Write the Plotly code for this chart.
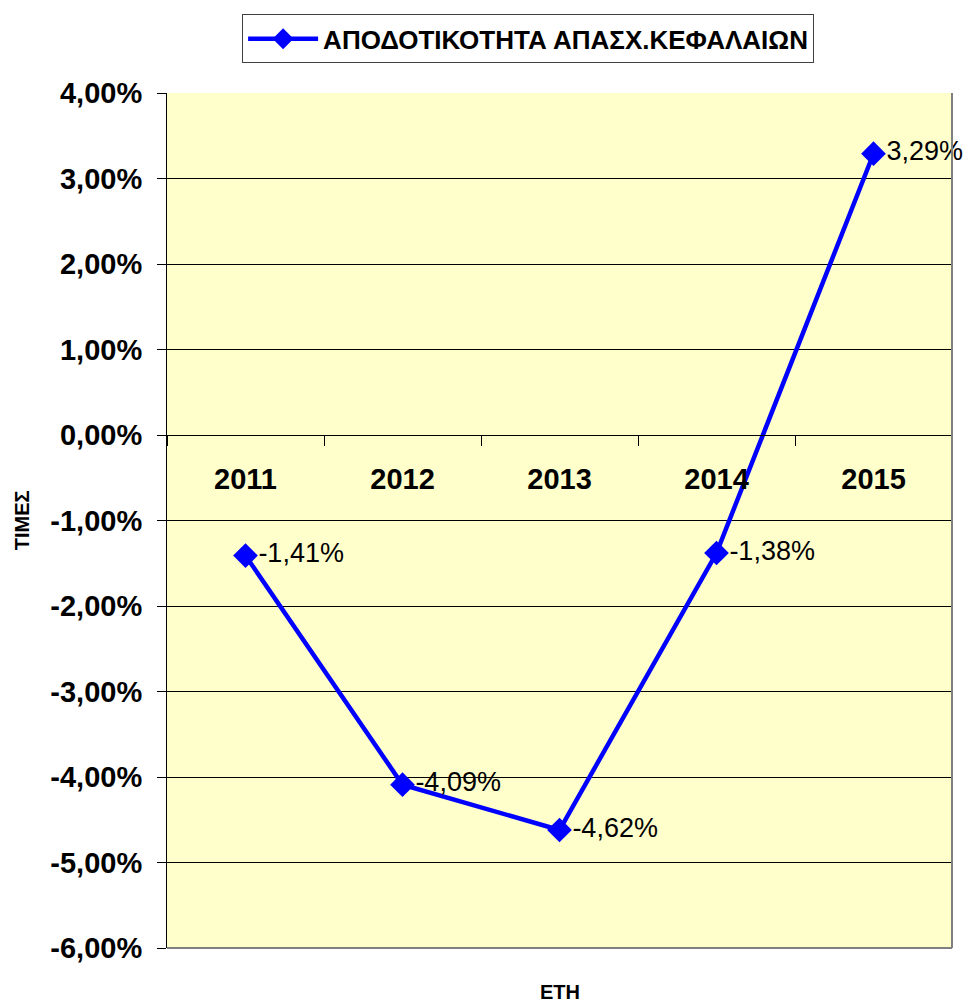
import plotly.graph_objects as go

years = ["2011", "2012", "2013", "2014", "2015"]
values = [-1.41, -4.09, -4.62, -1.38, 3.29]
labels = ["-1,41%", "-4,09%", "-4,62%", "-1,38%", "3,29%"]
y_ticks = [4, 3, 2, 1, 0, -1, -2, -3, -4, -5, -6]
y_ticktext = ["4,00%", "3,00%", "2,00%", "1,00%", "0,00%", "-1,00%", "-2,00%",
              "-3,00%", "-4,00%", "-5,00%", "-6,00%"]
series_name = "ΑΠΟΔΟΤΙΚΟΤΗΤΑ ΑΠΑΣΧ.ΚΕΦΑΛΑΙΩΝ"

y_min, y_max = -6, 4

fig = go.Figure()
fig.add_trace(go.Scatter(
    x=years, y=values, mode="lines+markers+text",
    name=series_name,
    line=dict(color="#0000FF", width=4.5),
    marker=dict(symbol="diamond", size=19, color="#0000FF"),
    text=labels, textposition="middle right",
    textfont=dict(family="Arial, Liberation Sans", size=27, color="black"),
    cliponaxis=False,
))

fig.update_layout(
    width=965, height=995,
    margin=dict(l=159, r=21, t=85, b=55, autoexpand=False),
    paper_bgcolor="white",
    plot_bgcolor="#FFFFCC",
    font=dict(family="Arial, Liberation Sans", color="black"),
    showlegend=True,
    legend=dict(
        x=0.46, xanchor="center", y=1.092, yanchor="top",
        bordercolor="#404040", borderwidth=1,
        itemwidth=70,
        font=dict(size=26, family="Arial, Liberation Sans", weight="bold"),
        bgcolor="white",
    ),
    xaxis=dict(
        type="category", range=[-0.5, 4.5], automargin=False,
        anchor="free", position=(0 - y_min) / (y_max - y_min),
        showline=True, linecolor="black", linewidth=1,
        ticks="outside", ticklen=10, tickcolor="black", tickson="boundaries",
        tickfont=dict(size=29, weight="bold"),
        ticklabelstandoff=18,
        showgrid=False, zeroline=False,
    ),
    yaxis=dict(
        range=[y_min, y_max], automargin=False,
        tickvals=y_ticks, ticktext=y_ticktext,
        tickfont=dict(size=29, weight="bold"),
        showline=True, linecolor="black", linewidth=1,
        ticks="outside", ticklen=9, tickcolor="black",
        ticklabelstandoff=9,
        showgrid=True, gridcolor="black", gridwidth=1,
        zeroline=False,
    ),
    annotations=[
        dict(text="ΤΙΜΕΣ", xref="paper", yref="paper", x=-0.185, y=0.5,
             textangle=-90, showarrow=False,
             font=dict(size=20, weight="bold"), xanchor="center", yanchor="middle"),
        dict(text="ΕΤΗ", xref="paper", yref="paper", x=0.5, y=-0.052,
             showarrow=False, font=dict(size=20, weight="bold"),
             xanchor="center", yanchor="middle"),
    ],
    shapes=[
        dict(type="line", xref="x domain", yref="y domain", x0=1, x1=1, y0=0, y1=1,
             line=dict(color="#808080", width=2)),
        dict(type="line", xref="x domain", yref="y domain", x0=0, x1=1, y0=0, y1=0,
             line=dict(color="#808080", width=2)),
    ],
)

fig.write_html("out.html")
